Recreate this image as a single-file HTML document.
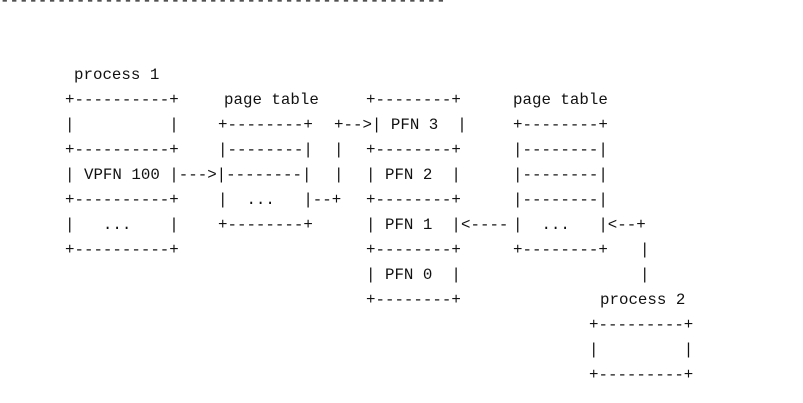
<!DOCTYPE html>
<html><head><meta charset="utf-8"><style>
html,body{margin:0;padding:0;background:#fff;}
body{width:803px;height:403px;position:relative;overflow:hidden;}
.s{position:absolute;font-family:"Liberation Mono",monospace;font-size:15.8px;line-height:25px;height:25px;white-space:pre;color:#111;}
</style></head><body>
<div class="s" style="left:0;top:-11px">-----------------------------------------------</div>

<div class="s" style="left:74px;top:63px">process 1</div>

<div class="s" style="left:65px;top:88px">+----------+</div>
<div class="s" style="left:224px;top:88px">page table</div>
<div class="s" style="left:366px;top:88px">+--------+</div>
<div class="s" style="left:513px;top:88px">page table</div>

<div class="s" style="left:65px;top:113px">|          |</div>
<div class="s" style="left:218px;top:113px">+--------+</div>
<div class="s" style="left:334px;top:113px">+--&gt;| PFN 3  |</div>
<div class="s" style="left:513px;top:113px">+--------+</div>

<div class="s" style="left:65px;top:138px">+----------+</div>
<div class="s" style="left:218px;top:138px">|--------|</div>
<div class="s" style="left:334px;top:138px">|</div>
<div class="s" style="left:366px;top:138px">+--------+</div>
<div class="s" style="left:513px;top:138px">|--------|</div>

<div class="s" style="left:65px;top:163px">| VPFN 100 |---&gt;|--------|</div>
<div class="s" style="left:334px;top:163px">|</div>
<div class="s" style="left:366px;top:163px">| PFN 2  |</div>
<div class="s" style="left:513px;top:163px">|--------|</div>

<div class="s" style="left:65px;top:188px">+----------+</div>
<div class="s" style="left:218px;top:188px">|  ...   |--+</div>
<div class="s" style="left:366px;top:188px">+--------+</div>
<div class="s" style="left:513px;top:188px">|--------|</div>

<div class="s" style="left:65px;top:213px">|   ...    |</div>
<div class="s" style="left:218px;top:213px">+--------+</div>
<div class="s" style="left:366px;top:213px">| PFN 1  |</div>
<div class="s" style="left:461px;top:213px">&lt;----</div>
<div class="s" style="left:513px;top:213px">|  ...   |&lt;--+</div>

<div class="s" style="left:65px;top:238px">+----------+</div>
<div class="s" style="left:366px;top:238px">+--------+</div>
<div class="s" style="left:513px;top:238px">+--------+</div>
<div class="s" style="left:640px;top:238px">|</div>

<div class="s" style="left:366px;top:263px">| PFN 0  |</div>
<div class="s" style="left:640px;top:263px">|</div>

<div class="s" style="left:366px;top:288px">+--------+</div>
<div class="s" style="left:600px;top:288px">process 2</div>

<div class="s" style="left:589px;top:313px">+---------+</div>
<div class="s" style="left:589px;top:338px">|         |</div>
<div class="s" style="left:589px;top:363px">+---------+</div>
</body></html>
